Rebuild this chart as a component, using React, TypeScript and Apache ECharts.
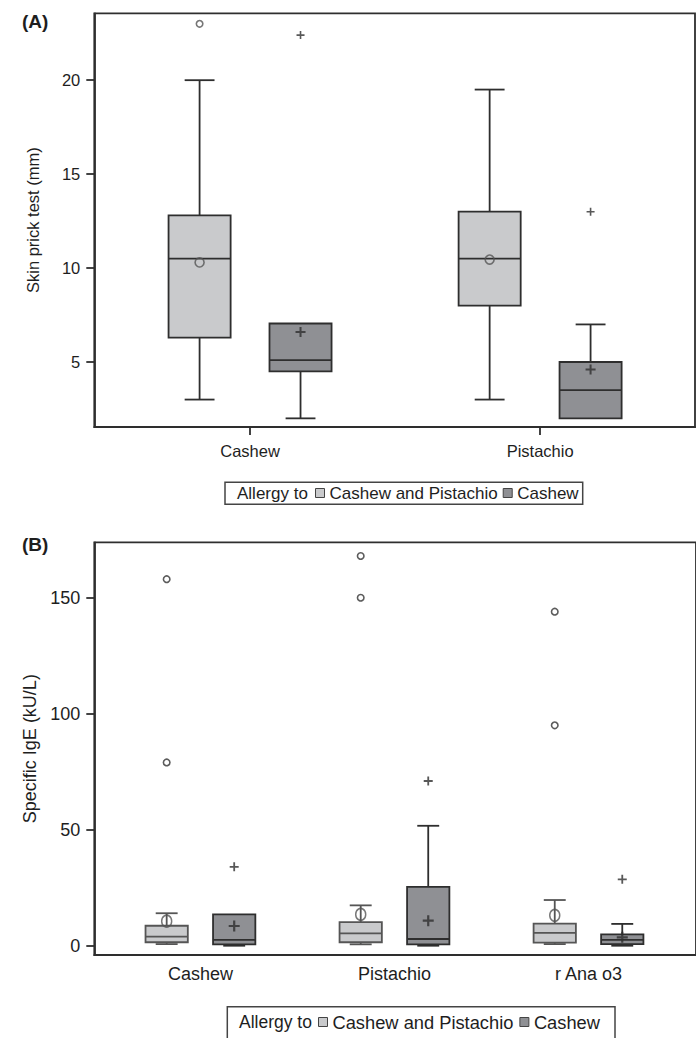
import React, { useEffect, useRef } from "react";
import * as echarts from "echarts";

const FONT = '"Liberation Sans", Arial, Helvetica, sans-serif';

// ---------- Panel A: skin prick test (mm) ----------
const catsA = ["Cashew", "Pistachio"];
const ticksA = [5, 10, 15, 20];
// [min, q1, median, q3, max]
const boxA_both = [
  [3.0, 6.3, 10.5, 12.8, 20.0],
  [3.0, 8.0, 10.5, 13.0, 19.5],
];
const meanA_both = [10.3, 10.45];
const outA_both = [[23.0], []];
const boxA_cashew = [
  [2.0, 4.5, 5.1, 7.05, 7.05],
  [2.0, 2.0, 3.5, 5.0, 7.0],
];
const meanA_cashew = [6.6, 4.6];
const outA_cashew = [[22.4], [13.0]];

// ---------- Panel B: specific IgE (kU/L) ----------
const catsB = ["Cashew", "Pistachio", "r Ana o3"];
const ticksB = [0, 50, 100, 150];
const boxB_both = [
  [0.7, 1.5, 3.9, 8.6, 14.0],
  [0.6, 1.5, 5.3, 10.2, 17.4],
  [0.7, 1.3, 5.5, 9.5, 19.7],
];
const meanB_both = [10.6, 13.5, 13.1];
const outB_both = [[79, 158], [150, 168], [95, 144]];
const boxB_cashew = [
  [0, 0.6, 2.5, 13.5, 13.5],
  [0, 0.6, 2.9, 25.4, 51.7],
  [0, 0.7, 2.5, 4.9, 9.4],
];
const meanB_cashew = [8.5, 10.8, 3.6];
const outB_cashew = [[34], [71], [28.6]];

const SER_BOTH = "Cashew and Pistachio";
const SER_CASHEW = "Cashew";

const LIGHT = "#c9cacc";
const DARK = "#8f9094";
const INK = "#2e2e2e";
const TXT = "#1e1e1e";
const LW = 1.8;

const OFFSET = 0.174;
const CROSS = "path://M4,0h2v4h4v2h-4v4h-2v-4h-4v-2h4z";

function boxRenderer(boxW: number, capW: number, fill: string, stroke: string, lw: number) {
  return (params: any, api: any) => {
    const x = api.value(0);
    const vMin = api.value(1), vQ1 = api.value(2), vMed = api.value(3), vQ3 = api.value(4), vMax = api.value(5);
    const lo = api.coord([x, vMin]);
    const q1 = api.coord([x, vQ1]);
    const md = api.coord([x, vMed]);
    const q3 = api.coord([x, vQ3]);
    const hi = api.coord([x, vMax]);
    const unit = api.size([1, 0])[0];
    const bw = boxW * unit;
    const cw = capW * unit;
    const cx = md[0];
    const line = (x1: number, y1: number, x2: number, y2: number) => ({
      type: "line",
      shape: { x1, y1, x2, y2 },
      style: { stroke, lineWidth: lw },
    });
    const children: any[] = [];
    if (vMax > vQ3) {
      children.push(line(cx, q3[1], cx, hi[1]));
      children.push(line(cx - cw / 2, hi[1], cx + cw / 2, hi[1]));
    }
    if (vMin < vQ1) {
      children.push(line(cx, q1[1], cx, lo[1]));
      children.push(line(cx - cw / 2, lo[1], cx + cw / 2, lo[1]));
    }
    children.push({
      type: "rect",
      shape: { x: cx - bw / 2, y: q3[1], width: bw, height: q1[1] - q3[1] },
      style: { fill, stroke, lineWidth: lw },
    });
    children.push(line(cx - bw / 2, md[1], cx + bw / 2, md[1]));
    return { type: "group", children };
  };
}

const boxData = (boxes: number[][], off: number) => boxes.map((b, i) => [i + off, ...b]);
const meanData = (means: number[], off: number) => means.map((m, i) => [i + off, m]);
const outData = (outs: number[][], off: number) =>
  outs.flatMap((arr, i) => arr.map((v) => [i + off, v]));

export default function App() {
  const ref = useRef<HTMLDivElement>(null);

  useEffect(() => {
    if (!ref.current) return;
    const chart = echarts.init(ref.current, undefined, { renderer: "svg" });

    const axisLineStyle = { color: INK, width: LW };

    const option: any = {
      animation: false,
      backgroundColor: "#ffffff",
      grid: [
        {
          left: 94.3, top: 13.3, width: 600.7, height: 413.7,
          show: true, borderColor: INK, borderWidth: LW, backgroundColor: "transparent",
        },
        {
          left: 94.3, top: 542.3, width: 604.7, height: 412.7,
          show: true, borderColor: INK, borderWidth: LW, backgroundColor: "transparent",
        },
      ],
      xAxis: [
        {
          gridIndex: 0, type: "value", min: -0.537, max: 1.534,
          splitLine: { show: false },
          axisLine: { show: true, onZero: false, lineStyle: axisLineStyle },
          axisTick: { show: true, customValues: catsA.map((_, i) => i), length: 8, lineStyle: axisLineStyle },
          axisLabel: {
            customValues: catsA.map((_, i) => i),
            formatter: (v: number) => catsA[Math.round(v)] ?? "",
            margin: 15, fontSize: 16.5, color: TXT, fontFamily: FONT,
          },
        },
        {
          gridIndex: 1, type: "value", min: -0.547, max: 2.554,
          splitLine: { show: false },
          axisLine: { show: true, onZero: false, lineStyle: axisLineStyle },
          axisTick: { show: false },
          axisLabel: {
            customValues: catsB.map((_, i) => i),
            formatter: (v: number) => catsB[Math.round(v)] ?? "",
            margin: 10, fontSize: 18, color: TXT, fontFamily: FONT,
          },
        },
      ],
      yAxis: [
        {
          gridIndex: 0, type: "value", min: 1.54, max: 23.56,
          splitLine: { show: false },
          axisLine: { show: true, onZero: false, lineStyle: axisLineStyle },
          axisTick: { show: true, customValues: ticksA, length: 8, lineStyle: axisLineStyle },
          axisLabel: { customValues: ticksA, margin: 14, fontSize: 16.5, color: TXT, fontFamily: FONT },
          name: "Skin prick test (mm)", nameLocation: "middle", nameGap: 53,
          nameTextStyle: { fontSize: 16.5, color: TXT, fontFamily: FONT },
        },
        {
          gridIndex: 1, type: "value", min: -4.0, max: 173.9,
          splitLine: { show: false },
          axisLine: { show: true, onZero: false, lineStyle: axisLineStyle },
          axisTick: { show: true, customValues: ticksB, length: 8, lineStyle: axisLineStyle },
          axisLabel: { customValues: ticksB, margin: 14, fontSize: 18, color: TXT, fontFamily: FONT },
          name: "Specific IgE (kU/L)", nameLocation: "middle", nameGap: 45,
          nameTextStyle: { fontSize: 18, color: TXT, fontFamily: FONT },
        },
      ],
      legend: [
        {
          left: 315, top: 483, padding: 0, itemWidth: 9, itemHeight: 9, itemGap: 5,
          selectedMode: false,
          textStyle: { fontSize: 17, fontFamily: FONT, color: TXT, lineHeight: 20 },
          data: [
            { name: SER_BOTH, icon: "rect", itemStyle: { color: LIGHT, borderColor: "#444", borderWidth: 1 } },
            { name: SER_CASHEW, icon: "rect", itemStyle: { color: DARK, borderColor: "#444", borderWidth: 1 } },
          ],
        },
        {
          left: 318, top: 1011, padding: 0, itemWidth: 9, itemHeight: 9, itemGap: 6,
          selectedMode: false,
          textStyle: { fontSize: 18.3, fontFamily: FONT, color: TXT, lineHeight: 22 },
          data: [
            { name: SER_BOTH, icon: "rect", itemStyle: { color: LIGHT, borderColor: "#444", borderWidth: 1 } },
            { name: SER_CASHEW, icon: "rect", itemStyle: { color: DARK, borderColor: "#444", borderWidth: 1 } },
          ],
        },
      ],
      graphic: [
        { type: "text", x: 22, y: 21, style: { text: "(A)", font: `bold 19px ${FONT}`, fill: TXT, verticalAlign: "middle" } },
        { type: "text", x: 22, y: 544, style: { text: "(B)", font: `bold 19px ${FONT}`, fill: TXT, verticalAlign: "middle" } },
        { type: "rect", shape: { x: 225, y: 482.3, width: 357.7, height: 22 }, style: { fill: "none", stroke: "#444", lineWidth: 1.5 } },
        { type: "text", x: 237, y: 493.5, style: { text: "Allergy to", font: `17px ${FONT}`, fill: TXT, verticalAlign: "middle" } },
        { type: "rect", shape: { x: 227.3, y: 1006.7, width: 387.7, height: 34 }, style: { fill: "none", stroke: "#444", lineWidth: 1.5 } },
        { type: "text", x: 239, y: 1022, style: { text: "Allergy to", font: `17.5px ${FONT}`, fill: TXT, verticalAlign: "middle" } },
      ],
      series: [
        // Panel A boxes
        {
          type: "custom", name: SER_BOTH, xAxisIndex: 0, yAxisIndex: 0,
          renderItem: boxRenderer(0.214, 0.103, LIGHT, INK, LW),
          encode: { x: 0, y: [1, 2, 3, 4, 5] },
          data: boxData(boxA_both, -OFFSET),
        },
        {
          type: "custom", name: SER_CASHEW, xAxisIndex: 0, yAxisIndex: 0,
          renderItem: boxRenderer(0.214, 0.103, DARK, INK, LW),
          encode: { x: 0, y: [1, 2, 3, 4, 5] },
          data: boxData(boxA_cashew, OFFSET),
        },
        // Panel B boxes
        {
          type: "custom", name: SER_BOTH, xAxisIndex: 1, yAxisIndex: 1,
          renderItem: boxRenderer(0.218, 0.113, LIGHT, "#555555", LW),
          encode: { x: 0, y: [1, 2, 3, 4, 5] },
          data: boxData(boxB_both, -OFFSET),
        },
        {
          type: "custom", name: SER_CASHEW, xAxisIndex: 1, yAxisIndex: 1,
          renderItem: boxRenderer(0.218, 0.113, DARK, INK, LW),
          encode: { x: 0, y: [1, 2, 3, 4, 5] },
          data: boxData(boxB_cashew, OFFSET),
        },
        // Panel A means & outliers
        {
          type: "scatter", name: SER_BOTH, xAxisIndex: 0, yAxisIndex: 0,
          symbol: "circle", symbolSize: 9,
          itemStyle: { color: "rgba(0,0,0,0)", borderColor: "#555", borderWidth: 1.6 },
          data: meanData(meanA_both, -OFFSET),
        },
        {
          type: "scatter", name: SER_BOTH, xAxisIndex: 0, yAxisIndex: 0,
          symbol: "circle", symbolSize: 6.5,
          itemStyle: { color: "rgba(0,0,0,0)", borderColor: "#555", borderWidth: 1.6 },
          data: outData(outA_both, -OFFSET),
        },
        {
          type: "scatter", name: SER_CASHEW, xAxisIndex: 0, yAxisIndex: 0,
          symbol: CROSS, symbolSize: 10, itemStyle: { color: INK },
          data: meanData(meanA_cashew, OFFSET),
        },
        {
          type: "scatter", name: SER_CASHEW, xAxisIndex: 0, yAxisIndex: 0,
          symbol: CROSS, symbolSize: 8, itemStyle: { color: INK },
          data: outData(outA_cashew, OFFSET),
        },
        // Panel B means & outliers
        {
          type: "scatter", name: SER_BOTH, xAxisIndex: 1, yAxisIndex: 1,
          symbol: "circle", symbolSize: [10, 12],
          itemStyle: { color: "rgba(0,0,0,0)", borderColor: "#555", borderWidth: 1.6 },
          data: meanData(meanB_both, -OFFSET),
        },
        {
          type: "scatter", name: SER_BOTH, xAxisIndex: 1, yAxisIndex: 1,
          symbol: "circle", symbolSize: 6.5,
          itemStyle: { color: "rgba(0,0,0,0)", borderColor: "#333", borderWidth: 1.6 },
          data: outData(outB_both, -OFFSET),
        },
        {
          type: "scatter", name: SER_CASHEW, xAxisIndex: 1, yAxisIndex: 1,
          symbol: CROSS, symbolSize: 11, itemStyle: { color: INK },
          data: meanData(meanB_cashew, OFFSET),
        },
        {
          type: "scatter", name: SER_CASHEW, xAxisIndex: 1, yAxisIndex: 1,
          symbol: CROSS, symbolSize: 9, itemStyle: { color: INK },
          data: outData(outB_cashew, OFFSET),
        },
      ],
    };

    chart.setOption(option);
    return () => chart.dispose();
  }, []);

  return (
    <div
      ref={ref}
      style={{ position: "absolute", left: 0, top: 0, width: 696, height: 1038, background: "#fff" }}
    />
  );
}
